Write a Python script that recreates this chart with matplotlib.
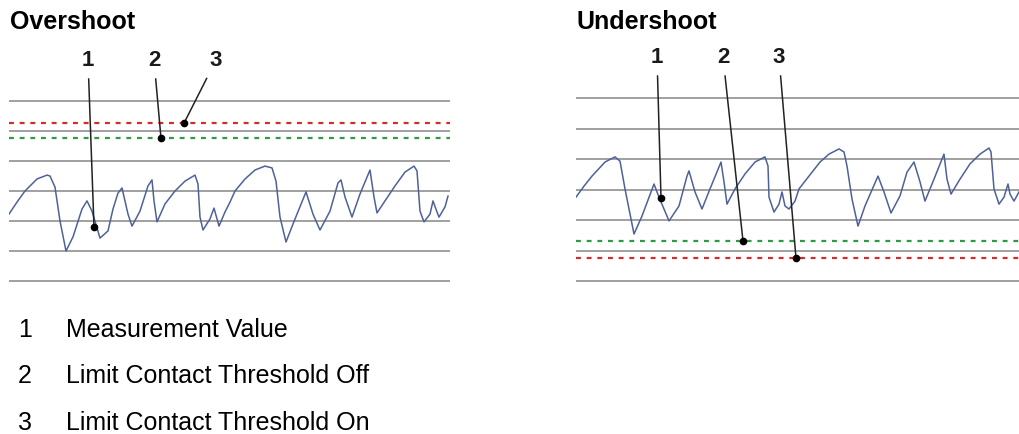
import matplotlib
matplotlib.use("Agg")
import matplotlib.pyplot as plt

# ---------------- data ----------------
panel_titles = ["Overshoot", "Undershoot"]
grid_levels = [0, 1, 2, 3, 4, 5, 6]

over_t = [0, 8, 16, 28, 38, 41, 46, 51, 57, 64, 73, 78, 83, 91, 99, 104, 109, 113,
          119, 123, 131, 139, 143, 145, 148, 156, 166, 176, 186, 189, 191, 194, 201,
          205, 208, 210, 216, 221, 226, 236, 246, 256, 263, 267, 271, 277, 284, 297,
          304, 311, 321, 329, 332, 336, 343, 351, 361, 365, 368, 376, 386, 396, 405,
          408, 411, 415, 421, 424, 428, 430, 436, 439]
over_v = [2.23, 2.63, 3.00, 3.40, 3.53, 3.50, 3.13, 2.00, 1.00, 1.47, 2.40, 2.67, 2.33,
          1.43, 1.67, 2.40, 2.93, 3.10, 2.23, 1.83, 2.33, 3.17, 3.37, 2.67, 1.97, 2.57,
          3.00, 3.33, 3.53, 3.23, 2.13, 1.70, 2.07, 2.43, 2.07, 1.83, 2.30, 2.63, 3.00,
          3.40, 3.70, 3.83, 3.77, 3.33, 2.13, 1.30, 1.90, 2.97, 2.23, 1.70, 2.33, 3.27,
          3.37, 2.80, 2.13, 2.90, 3.70, 2.80, 2.27, 2.67, 3.17, 3.63, 3.83, 3.67, 2.33,
          1.97, 2.23, 2.67, 2.30, 2.13, 2.47, 2.83]

under_t = [0, 8, 16, 29, 39, 44, 49, 58, 66, 78, 83, 93, 103, 111, 113, 119, 126, 134,
           145, 148, 151, 159, 169, 179, 189, 192, 193, 198, 203, 206, 209, 213, 219,
           223, 233, 244, 253, 263, 268, 271, 276, 282, 289, 302, 308, 315, 324, 331,
           338, 344, 349, 358, 368, 371, 375, 384, 394, 404, 413, 415, 418, 423, 428,
           432, 434, 438, 443]
under_v = [2.75, 3.11, 3.44, 3.90, 4.07, 3.93, 3.02, 1.54, 2.13, 3.18, 2.75, 1.97, 2.46,
           3.44, 3.61, 2.92, 2.36, 3.02, 3.90, 3.25, 2.52, 3.02, 3.51, 3.90, 4.07, 3.77,
           2.75, 2.26, 2.52, 2.92, 2.46, 2.36, 2.62, 3.02, 3.44, 3.90, 4.16, 4.33, 4.23,
           3.77, 2.69, 1.80, 2.46, 3.44, 2.92, 2.23, 2.79, 3.57, 3.90, 3.25, 2.62, 3.34,
           4.16, 3.34, 2.85, 3.34, 3.84, 4.16, 4.36, 4.23, 3.02, 2.52, 2.75, 3.18, 2.85,
           2.62, 2.92]

over_threshold_on = 5.26    # red
over_threshold_off = 4.76   # green
under_threshold_off = 1.31  # green
under_threshold_on = 0.75   # red

callout_labels = ["1", "2", "3"]
legend_items = ["Measurement Value", "Limit Contact Threshold Off", "Limit Contact Threshold On"]

# ---------------- figure ----------------
W, H = 1019, 435
DPI = 100
fig = plt.figure(figsize=(W / DPI, H / DPI), dpi=DPI)
FONT = "Liberation Sans"

GRID_C = "#a0a0a0"
SIG_C = "#4e6299"
RED = "#d42a2a"
GREEN = "#2e9a44"


def make_axes(x0, x1, y_top_line, y_bottom_line, tmax):
    scale = (y_bottom_line - y_top_line) / 6.0
    pad = 0.3
    bottom_px = y_bottom_line + pad * scale
    height_px = (6 + 2 * pad) * scale
    ax = fig.add_axes([x0 / W, (H - bottom_px) / H, (x1 - x0) / W, height_px / H])
    ax.set_xlim(0, tmax)
    ax.set_ylim(-pad, 6 + pad)
    ax.axis("off")
    return ax


axL = make_axes(9, 450, 102, 282, 441)
axR = make_axes(576, 1019, 99, 282, 443)

for ax in (axL, axR):
    for g in grid_levels:
        ax.axhline(g, color=GRID_C, lw=1.4, zorder=1)

dash = dict(lw=1.6, dashes=(2.2, 2.6), zorder=2)
axL.axhline(over_threshold_on, color=RED, **dash)
axL.axhline(over_threshold_off, color=GREEN, **dash)
axR.axhline(under_threshold_off, color=GREEN, **dash)
axR.axhline(under_threshold_on, color=RED, **dash)

axL.plot(over_t, over_v, color=SIG_C, lw=1.1, zorder=3, solid_joinstyle="round")
axR.plot(under_t, under_v, color=SIG_C, lw=1.1, zorder=3, solid_joinstyle="round")

# titles
fig.text(10 / W, 1 - 29 / H, panel_titles[0], fontsize=18, fontweight="bold",
         family=FONT, ha="left", va="baseline")
fig.text(577 / W, 1 - 29 / H, panel_titles[1], fontsize=18, fontweight="bold",
         family=FONT, ha="left", va="baseline")


# callouts
def callout(ax, label, tx, ty, xy):
    ax.annotate(label, xy=xy, xycoords="data",
                xytext=(tx, H - ty), textcoords="figure pixels",
                fontsize=16, fontweight="bold", family=FONT, ha="center", va="center",
                color="#1a1a1a",
                arrowprops=dict(arrowstyle="-", color="#222222", lw=1.1,
                                shrinkA=4, shrinkB=0), zorder=5)
    ax.plot([xy[0]], [xy[1]], "o", color="black", ms=4.5, zorder=6, clip_on=False)


callout(axL, callout_labels[0], 88, 61, (85, 1.80))
callout(axL, callout_labels[1], 154, 61, (152, over_threshold_off))
callout(axL, callout_labels[2], 216, 61, (175, over_threshold_on))
callout(axR, callout_labels[0], 657, 58, (85, 2.72))
callout(axR, callout_labels[1], 723, 58, (167, under_threshold_off))
callout(axR, callout_labels[2], 779, 58, (220, under_threshold_on))

# legend list
rows_y = [337, 383, 430]
for i, (num, txt) in enumerate(zip(callout_labels, legend_items)):
    fig.text(18 / W, 1 - rows_y[i] / H, num, fontsize=18, family=FONT,
             ha="left", va="baseline")
    fig.text(66 / W, 1 - rows_y[i] / H, txt, fontsize=18, family=FONT,
             ha="left", va="baseline")

fig.savefig("out.png", dpi=DPI, facecolor="white")
